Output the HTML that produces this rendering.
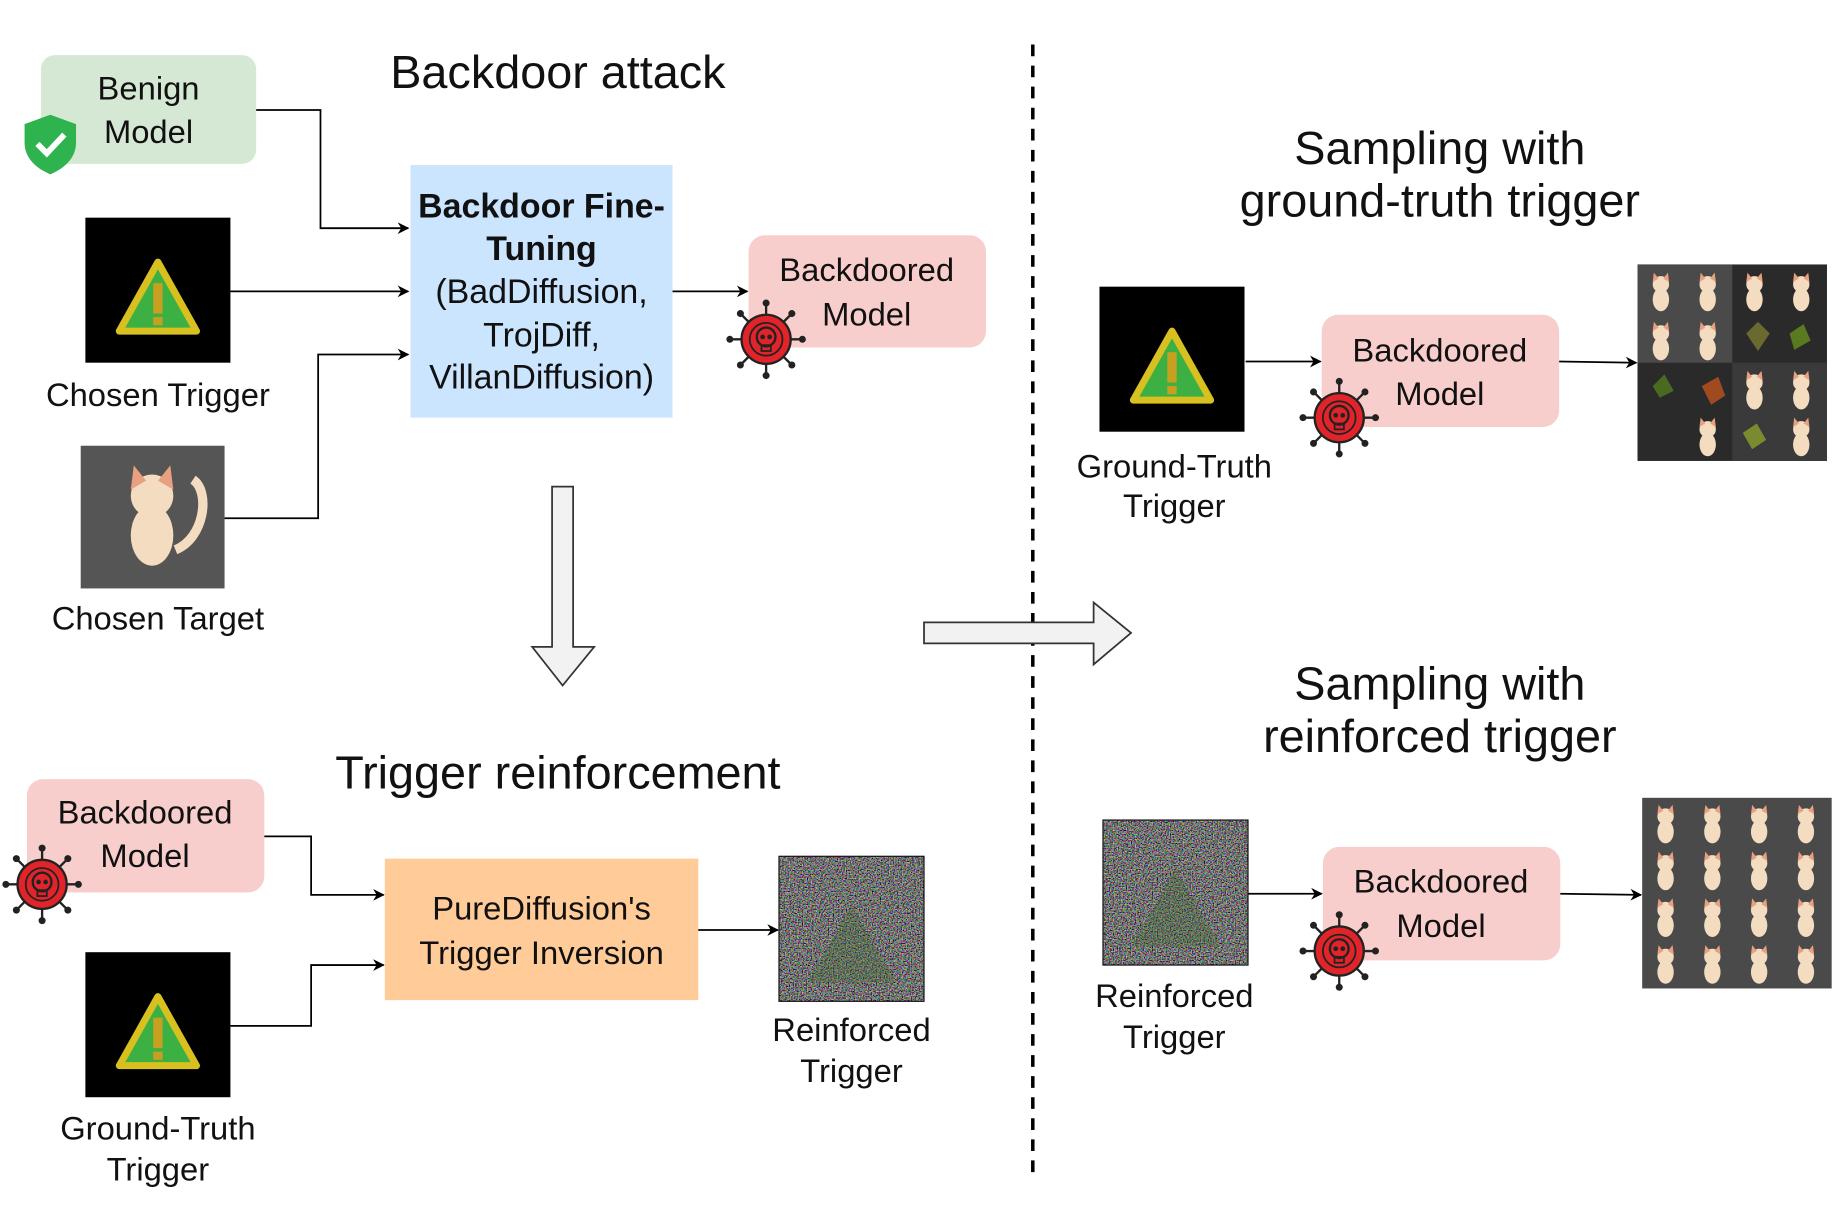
<!DOCTYPE html>
<html><head><meta charset="utf-8"><style>
html,body{margin:0;padding:0;background:#fff;}
svg{display:block;}
text{font-family:"Liberation Sans",sans-serif;fill:#111;}
</style></head><body>
<svg width="1834" height="1226" viewBox="0 0 1568 1048" xmlns="http://www.w3.org/2000/svg">
<defs>
<marker id="ah" markerWidth="10" markerHeight="10" refX="9" refY="5" orient="auto" markerUnits="userSpaceOnUse">
<path d="M0,0 L10,5 L0,10 L3,5 z" fill="#000"/></marker>
<filter id="noise" x="0" y="0" width="100%" height="100%">
<feTurbulence type="fractalNoise" baseFrequency="0.9" numOctaves="1" seed="3"/>
<feColorMatrix type="matrix" values="1.6 0 0 0 -0.6  0 1.6 0 0 -0.6  0 0 1.6 0 -0.6  0 0 0 0 1"/>
</filter>
<g id="trig">
<rect x="0" y="0" width="124" height="124" fill="#000"/>
<path d="M62,38 L95,97 L29,97 Z" fill="#3cb043" stroke="#d8c020" stroke-width="6" stroke-linejoin="round"/>
<rect x="58" y="56" width="8" height="26" fill="#c8a020"/>
<rect x="58" y="85" width="8" height="7" fill="#c8a020"/>
</g>
<g id="skull">
<g stroke="#222" stroke-width="2">
<line x1="0" y1="-30" x2="0" y2="30"/><line x1="-30" y1="0" x2="30" y2="0"/>
<line x1="-21" y1="-21" x2="21" y2="21"/><line x1="-21" y1="21" x2="21" y2="-21"/>
</g>
<g fill="#222"><circle cx="0" cy="-31" r="3"/><circle cx="0" cy="31" r="3"/><circle cx="-31" cy="0" r="3"/><circle cx="31" cy="0" r="3"/>
<circle cx="-22" cy="-22" r="3"/><circle cx="22" cy="22" r="3"/><circle cx="-22" cy="22" r="3"/><circle cx="22" cy="-22" r="3"/></g>
<circle r="21" fill="#e0242a" stroke="#222" stroke-width="2"/>
<circle r="14" fill="none" stroke="#222" stroke-width="1.5"/>
<ellipse cx="0" cy="-2" rx="8" ry="8" fill="none" stroke="#222" stroke-width="2"/>
<circle cx="-3" cy="-2" r="2" fill="#222"/><circle cx="3" cy="-2" r="2" fill="#222"/>
<rect x="-4" y="5" width="8" height="5" fill="none" stroke="#222" stroke-width="1.5"/>
</g>
<g id="cat">
<ellipse cx="0" cy="6" rx="7" ry="10" fill="#f3dcc0"/>
<circle cx="0" cy="-7" r="7" fill="#f3dcc0"/>
<path d="M-7,-9 L-6,-17 L-2,-12 Z M7,-9 L6,-17 L2,-12 Z" fill="#e8a080"/>
</g>
<g id="noiseimg">
<rect width="124" height="124" fill="#333" filter="url(#noise)"/>
<rect width="124" height="124" fill="none" stroke="#111" stroke-width="1"/>
<path d="M62,42 L100,108 L24,108 Z" fill="#3a6a2a" opacity="0.3"/>
</g>
</defs>

<line x1="883" y1="38" x2="883" y2="1010" stroke="#000" stroke-width="3" stroke-dasharray="10,8"/>

<text x="477" y="75" font-size="40" text-anchor="middle">Backdoor attack</text>
<rect x="35" y="47" width="184" height="93" rx="12" fill="#d5e8d4"/>
<text x="127" y="85" font-size="28" text-anchor="middle">Benign</text>
<text x="127" y="122" font-size="28" text-anchor="middle">Model</text>
<path d="M43,98 L65,106 L65,122 C65,135 55,144 43,149 C31,144 21,135 21,122 L21,106 Z" fill="#2fb34f"/>
<path d="M32,123 L40,131 L55,115" fill="none" stroke="#fff" stroke-width="5"/>
<use href="#trig" x="73" y="186"/>
<text x="135" y="347" font-size="28" text-anchor="middle">Chosen Trigger</text>
<rect x="69" y="381" width="123" height="122" fill="#555"/>
<g transform="translate(130,442) scale(2.6)"><use href="#cat"/></g>
<path d="M150,470 C175,460 180,420 165,410" fill="none" stroke="#f3dcc0" stroke-width="8"/>
<text x="135" y="538" font-size="28" text-anchor="middle">Chosen Target</text>

<polyline points="219,94 274,94 274,195 349,195" fill="none" stroke="#000" stroke-width="1.5" marker-end="url(#ah)"/>
<line x1="197" y1="249" x2="349" y2="249" stroke="#000" stroke-width="1.5" marker-end="url(#ah)"/>
<polyline points="192,443 272,443 272,303 349,303" fill="none" stroke="#000" stroke-width="1.5" marker-end="url(#ah)"/>

<rect x="351" y="141" width="224" height="216" fill="#cce5ff"/>
<text x="463" y="186" font-size="29" font-weight="bold" text-anchor="middle">Backdoor Fine-</text>
<text x="463" y="222" font-size="29" font-weight="bold" text-anchor="middle">Tuning</text>
<text x="463" y="259" font-size="29" text-anchor="middle">(BadDiffusion,</text>
<text x="463" y="296" font-size="29" text-anchor="middle">TrojDiff,</text>
<text x="463" y="332" font-size="29" text-anchor="middle">VillanDiffusion)</text>

<line x1="575" y1="249" x2="639" y2="249" stroke="#000" stroke-width="1.5" marker-end="url(#ah)"/>
<rect x="640" y="201" width="203" height="96" rx="14" fill="#f8cecc"/>
<text x="741" y="240" font-size="28" text-anchor="middle">Backdoored</text>
<text x="741" y="278" font-size="28" text-anchor="middle">Model</text>
<use href="#skull" x="655" y="290"/>

<path d="M472,416 L490,416 L490,553 L508,553 L481,586 L455,553 L472,553 Z" fill="#f2f2f2" stroke="#333" stroke-width="1.5"/>
<path d="M790,532 L935,532 L935,515 L967,541 L935,568 L935,550 L790,550 Z" fill="#f2f2f2" stroke="#333" stroke-width="1.5"/>

<text x="477" y="674" font-size="40" text-anchor="middle">Trigger reinforcement</text>
<rect x="23" y="666" width="203" height="97" rx="14" fill="#f8cecc"/>
<text x="124" y="704" font-size="28" text-anchor="middle">Backdoored</text>
<text x="124" y="741" font-size="28" text-anchor="middle">Model</text>
<use href="#skull" x="36" y="756"/>
<use href="#trig" x="73" y="814"/>
<text x="135" y="974" font-size="28" text-anchor="middle">Ground-Truth</text>
<text x="135" y="1009" font-size="28" text-anchor="middle">Trigger</text>
<polyline points="226,715 266,715 266,765 328,765" fill="none" stroke="#000" stroke-width="1.5" marker-end="url(#ah)"/>
<polyline points="197,877 266,877 266,825 328,825" fill="none" stroke="#000" stroke-width="1.5" marker-end="url(#ah)"/>
<rect x="329" y="734" width="268" height="121" fill="#ffcc99"/>
<text x="463" y="786" font-size="28" text-anchor="middle">PureDiffusion's</text>
<text x="463" y="824" font-size="28" text-anchor="middle">Trigger Inversion</text>
<line x1="597" y1="795" x2="665" y2="795" stroke="#000" stroke-width="1.5" marker-end="url(#ah)"/>
<use href="#noiseimg" x="666" y="732"/>
<text x="728" y="890" font-size="28" text-anchor="middle">Reinforced</text>
<text x="728" y="925" font-size="28" text-anchor="middle">Trigger</text>

<text x="1231" y="140" font-size="40" text-anchor="middle">Sampling with</text>
<text x="1231" y="185" font-size="40" text-anchor="middle">ground-truth trigger</text>
<use href="#trig" x="940" y="245"/>
<text x="1004" y="408" font-size="28" text-anchor="middle">Ground-Truth</text>
<text x="1004" y="442" font-size="28" text-anchor="middle">Trigger</text>
<line x1="1065" y1="309" x2="1129" y2="309" stroke="#000" stroke-width="1.5" marker-end="url(#ah)"/>
<rect x="1130" y="269" width="203" height="96" rx="14" fill="#f8cecc"/>
<text x="1231" y="309" font-size="28" text-anchor="middle">Backdoored</text>
<text x="1231" y="346" font-size="28" text-anchor="middle">Model</text>
<use href="#skull" x="1145" y="357"/>
<line x1="1333" y1="309" x2="1399" y2="310" stroke="#000" stroke-width="1.5" marker-end="url(#ah)"/>
<rect x="1400" y="226" width="162" height="168" fill="#2a2a2a"/>
<g>
<rect x="1400" y="226" width="81" height="84" fill="#4a4a4a"/>
<rect x="1481" y="310" width="81" height="84" fill="#3a3a3a"/>
<use href="#cat" x="1420" y="250"/><use href="#cat" x="1460" y="250"/><use href="#cat" x="1500" y="250"/><use href="#cat" x="1540" y="250"/>
<use href="#cat" x="1420" y="292"/><use href="#cat" x="1460" y="292"/>
<path d="M1493,285 l10,-10 l10,10 l-10,15 z" fill="#6a6a30"/><path d="M1530,285 l12,-8 l6,14 l-14,8 z" fill="#5a7a20"/>
<path d="M1413,330 l10,-10 l8,14 l-12,6 z" fill="#4a6a20"/><path d="M1455,330 l14,-8 l6,16 l-12,8 z" fill="#a04a20"/>
<use href="#cat" x="1500" y="334"/><use href="#cat" x="1540" y="334"/>
<use href="#cat" x="1460" y="374"/><path d="M1490,370 l12,-8 l8,14 l-12,8 z" fill="#7a8a30"/><use href="#cat" x="1540" y="374"/>
</g>

<text x="1231" y="598" font-size="40" text-anchor="middle">Sampling with</text>
<text x="1231" y="643" font-size="40" text-anchor="middle">reinforced trigger</text>
<use href="#noiseimg" x="943" y="701"/>
<text x="1004" y="861" font-size="28" text-anchor="middle">Reinforced</text>
<text x="1004" y="896" font-size="28" text-anchor="middle">Trigger</text>
<line x1="1067" y1="764" x2="1130" y2="764" stroke="#000" stroke-width="1.5" marker-end="url(#ah)"/>
<rect x="1131" y="724" width="203" height="97" rx="14" fill="#f8cecc"/>
<text x="1232" y="763" font-size="28" text-anchor="middle">Backdoored</text>
<text x="1232" y="801" font-size="28" text-anchor="middle">Model</text>
<use href="#skull" x="1145" y="813"/>
<line x1="1334" y1="764" x2="1403" y2="765" stroke="#000" stroke-width="1.5" marker-end="url(#ah)"/>
<rect x="1404" y="682" width="162" height="163" fill="#4a4a4a"/>
<g>
<use href="#cat" x="1424" y="705"/><use href="#cat" x="1464" y="705"/><use href="#cat" x="1504" y="705"/><use href="#cat" x="1544" y="705"/>
<use href="#cat" x="1424" y="745"/><use href="#cat" x="1464" y="745"/><use href="#cat" x="1504" y="745"/><use href="#cat" x="1544" y="745"/>
<use href="#cat" x="1424" y="785"/><use href="#cat" x="1464" y="785"/><use href="#cat" x="1504" y="785"/><use href="#cat" x="1544" y="785"/>
<use href="#cat" x="1424" y="825"/><use href="#cat" x="1464" y="825"/><use href="#cat" x="1504" y="825"/><use href="#cat" x="1544" y="825"/>
</g>
</svg>
</body></html>
